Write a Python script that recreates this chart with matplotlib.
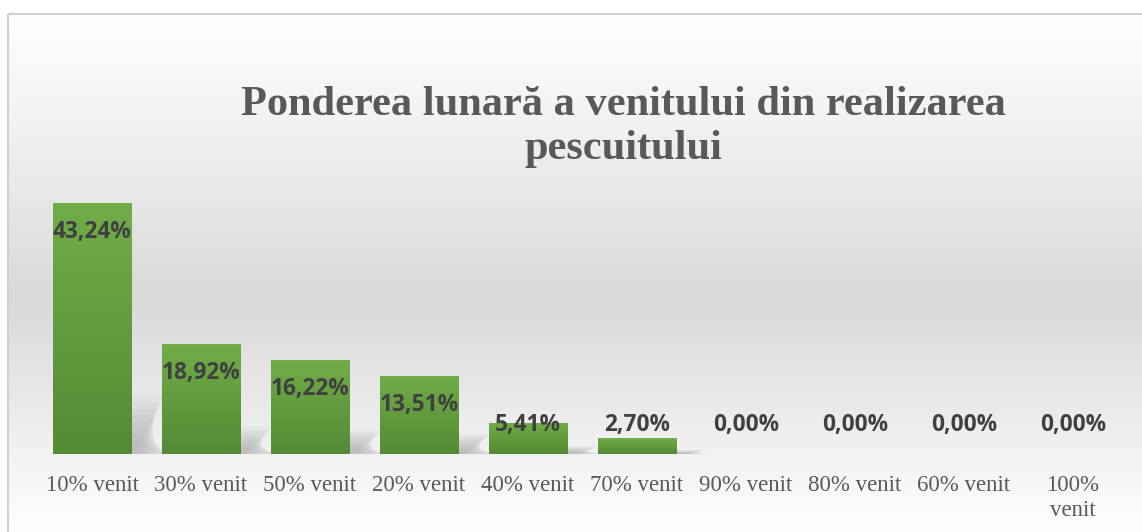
import numpy as np
import matplotlib
matplotlib.use("Agg")
import matplotlib.pyplot as plt
from matplotlib.colors import LinearSegmentedColormap
from matplotlib.patches import Rectangle, Polygon

categories = ["10% venit", "30% venit", "50% venit", "20% venit", "40% venit",
              "70% venit", "90% venit", "80% venit", "60% venit", "100%\nvenit"]
values = [43.24, 18.92, 16.22, 13.51, 5.41, 2.70, 0.00, 0.00, 0.00, 0.00]
labels = ["43,24%", "18,92%", "16,22%", "13,51%", "5,41%", "2,70%",
          "0,00%", "0,00%", "0,00%", "0,00%"]

W, H = 1142, 532
fig = plt.figure(figsize=(W / 100, H / 100), dpi=100)
fig.patch.set_facecolor("white")

# chart area background with vertical gradient
bg = fig.add_axes([0, 0, 1, 1])
bg.set_xlim(0, W)
bg.set_ylim(H, 0)
bg.axis("off")
bg_cmap = LinearSegmentedColormap.from_list(
    "bg", [(0.0, "#ffffff"), (0.25, "#efefef"), (0.55, "#d9d9d9"),
           (0.8, "#eeeeee"), (1.0, "#ffffff")])
grad = np.linspace(0, 1, 256).reshape(-1, 1)
bg.imshow(grad, cmap=bg_cmap, aspect="auto", extent=[8, W + 2, H + 2, 14],
          interpolation="bicubic")
bg.add_patch(Rectangle((8, 14), W, H, fill=False, edgecolor="#d0d0d0", lw=1.5))

# title
fig.text(623 / W, 1 - 127 / H, "Ponderea lunară a venitului din realizarea\npescuitului",
         ha="center", va="center", fontsize=30.5, fontweight="bold",
         family="Liberation Serif", color="#595959", linespacing=1.18)

ax = fig.add_axes([37.5 / W, (H - 454) / H, 1090 / W, 290 / H])
ax.patch.set_alpha(0)
x = np.arange(len(values))
bars = ax.bar(x, values, width=0.716, color="#66a042", zorder=2)

bar_cmap = LinearSegmentedColormap.from_list("bar", ["#558a35", "#70ad47"])
for b in bars:
    if b.get_height() <= 0:
        continue
    x0, w, h = b.get_x(), b.get_width(), b.get_height()
    im = ax.imshow(np.linspace(0, 1, 100).reshape(-1, 1), cmap=bar_cmap,
                   aspect="auto", extent=[x0, x0 + w, 0, h], origin="lower",
                   zorder=3)
    im.set_clip_path(b)
    # soft slanted shadow behind the bar
    hs = min(h * 0.25, 10)
    for k in range(8):
        f = 1 - k / 9
        ax.add_patch(Polygon([(x0 + 0.05, 0), (x0 + w + 0.05 * (k + 1), 0),
                              (x0 + w + 0.3 * f, hs * f), (x0 + 0.3 * f, hs * f)],
                             closed=True, color="#606060", alpha=0.05, lw=0,
                             zorder=1))

for xi, v, lab in zip(x, values, labels):
    ax.text(xi, max(v - 5.0, 5.0), lab, ha="center", va="center",
            fontsize=16.3, fontweight="bold", family="Open Sans",
            color="#404040", zorder=4)

ax.set_xlim(-0.5, len(values) - 0.5)
ax.set_ylim(0, 50)
ax.set_xticks(x)
ax.set_xticklabels(categories, family="Liberation Serif", fontsize=16.5,
                   color="#595959", va="top", linespacing=1.25)
ax.tick_params(axis="x", length=0, pad=15)
ax.set_yticks([])
for s in ax.spines.values():
    s.set_visible(False)

fig.savefig("out.png", dpi=100)
